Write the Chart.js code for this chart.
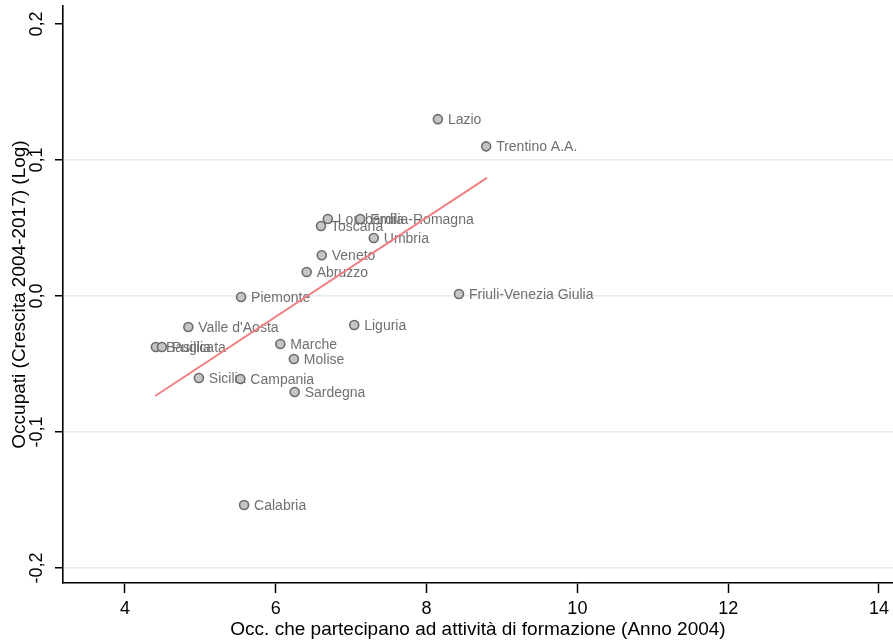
<!DOCTYPE html>
<html>
<head>
<meta charset="utf-8">
<script src="https://cdn.jsdelivr.net/npm/chart.js@4/dist/chart.umd.min.js"></script>
<style>
  html, body { margin: 0; padding: 0; background: #fff; overflow: hidden; }
  #wrap { width: 893px; height: 643px; }
</style>
</head>
<body>
<div id="wrap"><canvas id="c" width="893" height="643"></canvas></div>
<script>
// Regioni italiane: quota di occupati in formazione (2004) e crescita log degli occupati 2004-2017
const regions = [
  'Lazio', 'Trentino A.A.', 'Lombardia', 'Emilia-Romagna', 'Toscana', 'Umbria',
  'Veneto', 'Abruzzo', 'Piemonte', 'Friuli-Venezia Giulia', "Valle d'Aosta", 'Liguria',
  'Basilicata', 'Puglia', 'Marche', 'Molise', 'Sicilia', 'Campania', 'Sardegna', 'Calabria'
];
const formazione = [
  8.15, 8.79, 6.69, 7.12, 6.60, 7.30,
  6.61, 6.41, 5.54, 8.43, 4.84, 7.04,
  4.41, 4.49, 6.06, 6.24, 4.98, 5.53, 6.25, 5.58
];
const crescita = [
  0.130, 0.110, 0.0566, 0.0566, 0.0515, 0.0426,
  0.030, 0.0176, -0.0007, 0.0015, -0.0228, -0.0213,
  -0.0375, -0.0375, -0.0353, -0.0463, -0.0603, -0.061, -0.0706, -0.1537
];
// Retta di regressione (estremi)
const fitX = [4.40, 8.80];
const fitY = [-0.0735, 0.0868];

const xTicks = [4, 6, 8, 10, 12, 14];
const yTicks = [-0.2, -0.1, 0, 0.1, 0.2];

const FONT = '"Liberation Sans", Arial, sans-serif';

const pointLabels = {
  id: 'pointLabels',
  beforeDatasetsDraw(chart) {
    const meta = chart.getDatasetMeta(1);
    const ctx = chart.ctx;
    ctx.save();
    ctx.font = '14px ' + FONT;
    ctx.fillStyle = '#6f6f6f';
    ctx.textAlign = 'left';
    ctx.textBaseline = 'middle';
    meta.data.forEach((pt, i) => {
      ctx.fillText(regions[i], pt.x + 10, pt.y + 1);
    });
    ctx.restore();
  }
};

function noPadding(s) {
  s.paddingLeft = 0;
  s.paddingRight = 0;
  s.paddingTop = 0;
  s.paddingBottom = 0;
}

new Chart(document.getElementById('c'), {
  type: 'scatter',
  data: {
    datasets: [
      {
        type: 'line',
        data: fitX.map((x, i) => ({ x, y: fitY[i] })),
        borderColor: '#f27f7f',
        borderWidth: 2,
        pointRadius: 0,
        fill: false
      },
      {
        data: formazione.map((x, i) => ({ x, y: crescita[i] })),
        backgroundColor: '#c5c5c5',
        borderColor: '#6a6a6a',
        borderWidth: 1.6,
        pointRadius: 4.5
      }
    ]
  },
  options: {
    responsive: false,
    animation: false,
    devicePixelRatio: 1,
    layout: { autoPadding: false, padding: { top: 6, right: 0, left: 0, bottom: 0 } },
    plugins: { legend: { display: false }, tooltip: { enabled: false } },
    scales: {
      x: {
        type: 'linear',
        min: 3.178,
        max: 14.186,
        afterBuildTicks: s => { s.ticks = xTicks.map(v => ({ value: v })); },
        afterFit: s => { s.height = 60; noPadding(s); },
        grid: { drawOnChartArea: false, drawTicks: true, tickLength: 10, tickColor: '#000', tickWidth: 1.5 },
        border: { color: '#000', width: 1.6 },
        ticks: { color: '#000', font: { family: FONT, size: 18 }, padding: 5, maxRotation: 0 },
        title: {
          display: true,
          text: 'Occ. che partecipano ad attività di formazione (Anno 2004)',
          color: '#000',
          font: { family: FONT, size: 19 },
          padding: { top: 0, bottom: 2 }
        }
      },
      y: {
        type: 'linear',
        min: -0.211,
        max: 0.2132,
        afterBuildTicks: s => { s.ticks = yTicks.map(v => ({ value: v })); },
        afterFit: s => { s.width = 63; noPadding(s); },
        grid: {
          color: c => (c.tick && Math.abs(c.tick.value - 0.2) < 1e-9) ? 'rgba(0,0,0,0)' : '#e6edf0',
          lineWidth: 1.5,
          drawTicks: true,
          tickLength: 8,
          tickColor: '#000',
          tickWidth: 1.5
        },
        border: { color: '#000', width: 1.6 },
        ticks: {
          color: '#000',
          font: { family: FONT, size: 18 },
          minRotation: 90,
          maxRotation: 90,
          crossAlign: 'center',
          padding: 2.5,
          callback: v => (Math.abs(v) < 1e-9 ? 0 : v).toFixed(1).replace('.', ',')
        },
        title: {
          display: true,
          text: 'Occupati (Crescita 2004-2017) (Log)',
          color: '#000',
          font: { family: FONT, size: 19 },
          padding: { top: 8, bottom: 0 }
        }
      }
    }
  },
  plugins: [pointLabels]
});
</script>
</body>
</html>
